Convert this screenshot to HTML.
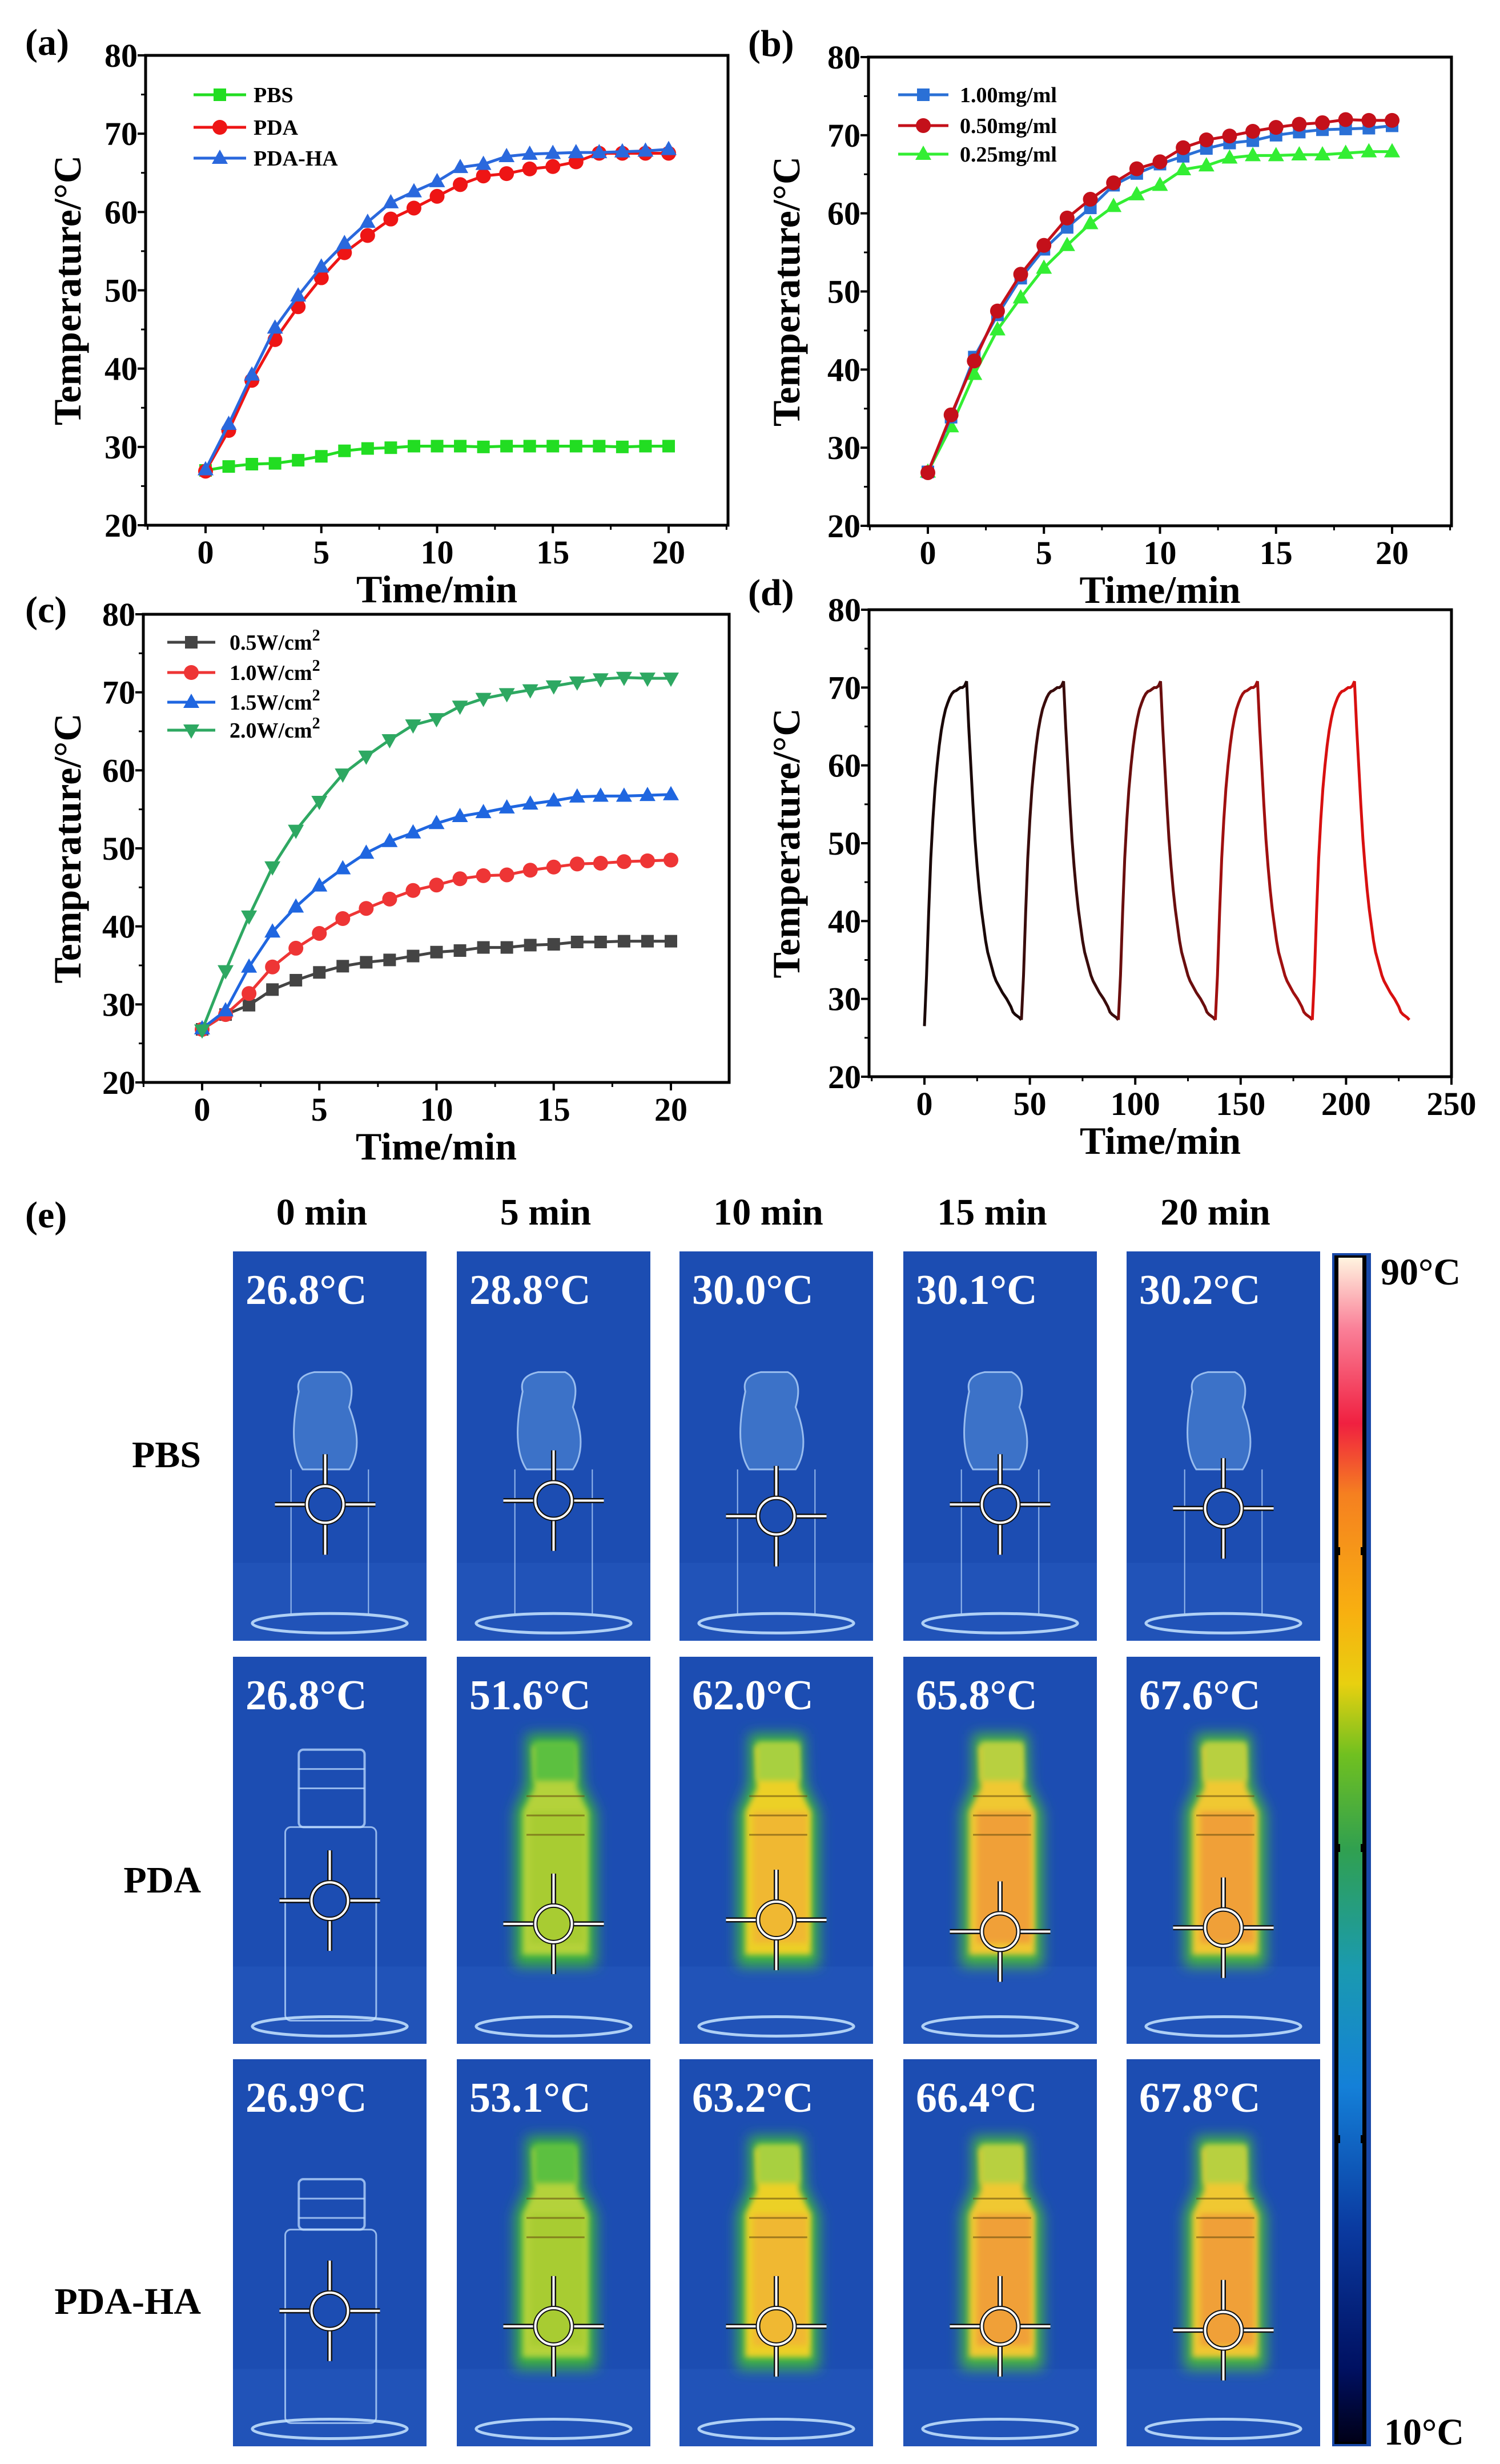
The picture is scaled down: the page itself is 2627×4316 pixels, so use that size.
<!DOCTYPE html>
<html><head><meta charset="utf-8">
<style>
html,body{margin:0;padding:0;background:#fff;}
svg{display:block;}
text{font-family:"Liberation Serif",serif;font-weight:bold;}
</style></head>
<body>
<svg id="fig" xmlns="http://www.w3.org/2000/svg" width="2627" height="4316" viewBox="0 0 2627 4316">
<defs>
<linearGradient id="cbar" x1="0" y1="1" x2="0" y2="0">
<stop offset="0" stop-color="#000018"/>
<stop offset="0.06" stop-color="#001060"/>
<stop offset="0.18" stop-color="#0a3aa0"/>
<stop offset="0.3" stop-color="#1480d8"/>
<stop offset="0.4" stop-color="#1a9ab0"/>
<stop offset="0.5" stop-color="#30a050"/>
<stop offset="0.58" stop-color="#70c020"/>
<stop offset="0.64" stop-color="#e8d010"/>
<stop offset="0.7" stop-color="#f8b010"/>
<stop offset="0.8" stop-color="#f58020"/>
<stop offset="0.86" stop-color="#f02040"/>
<stop offset="0.94" stop-color="#fa8098"/>
<stop offset="1" stop-color="#fff4e0"/>
</linearGradient>
<filter id="blur12" x="-30%" y="-30%" width="160%" height="160%"><feGaussianBlur stdDeviation="12"/></filter>
<filter id="blur5" x="-30%" y="-30%" width="160%" height="160%"><feGaussianBlur stdDeviation="5"/></filter>
</defs>
</svg>
<script>
const NS='http://www.w3.org/2000/svg';
const svg=document.getElementById('fig');
function mk(tag,attrs,parent){const e=document.createElementNS(NS,tag);for(const k in attrs)e.setAttribute(k,attrs[k]);(parent||svg).appendChild(e);return e;}

// ---------- data ----------
const minutes=[0,1,2,3,4,5,6,7,8,9,10,11,12,13,14,15,16,17,18,19,20];
const aPBS=[27,27.5,27.8,27.9,28.3,28.8,29.5,29.8,29.9,30.1,30.1,30.1,30,30.1,30.1,30.1,30.1,30.1,30,30.1,30.1];
const aPDA=[26.9,32.1,38.5,43.7,47.9,51.6,54.8,57,59.1,60.5,62,63.5,64.6,64.9,65.5,65.8,66.4,67.5,67.5,67.5,67.5];
const aPDAHA=[27.1,32.9,39.2,45.2,49.3,53,56,58.7,61.2,62.6,63.9,65.7,66.1,67.1,67.4,67.5,67.6,67.6,67.7,67.8,68];
const b100=[26.9,33.9,41.6,47,51.7,55.4,58.2,60.7,63.6,65.1,66.3,67.3,68.3,69,69.3,70,70.4,70.7,70.8,70.9,71.2];
const b050=[26.8,34.2,41.1,47.5,52.2,55.9,59.4,61.8,63.9,65.7,66.6,68.4,69.4,69.9,70.5,71,71.4,71.6,72,71.9,71.9];
const b025=[26.9,32.7,39.4,45.1,49.2,53,55.9,58.7,60.9,62.4,63.6,65.6,66.1,67.1,67.4,67.4,67.5,67.5,67.7,67.9,67.9];
const c05=[26.8,28.7,29.9,31.9,33.1,34.1,34.9,35.4,35.7,36.2,36.7,36.9,37.3,37.3,37.6,37.7,38,38,38.1,38.1,38.1];
const c10=[26.8,28.7,31.4,34.8,37.2,39.1,41,42.3,43.5,44.6,45.3,46.1,46.5,46.6,47.2,47.6,48,48.1,48.3,48.4,48.5];
const c15=[26.9,29.2,34.8,39.3,42.5,45.2,47.4,49.4,50.9,52,53.2,54.1,54.6,55.2,55.7,56.1,56.6,56.7,56.7,56.8,56.9];
const c20=[26.7,34.3,41.3,47.6,52.3,56,59.5,61.8,63.9,65.8,66.6,68.2,69.2,69.8,70.3,70.8,71.3,71.7,71.9,71.8,71.8];
// panel d: one heating/cooling cycle (minutes from cycle start), repeated at cycle starts
const dCycleTime=[0,1,2,3,4,5,6,7,8,9,10,11,12,13,14,15,16,17,18,19,20,21,22,23,24,25,26,27,28,29,30,31,32,33,34,35,36,37,38,39,40,41,42,43,44,45,46];
const dCycleTemp=[26.5,33,41,48,53,57,60,62.5,64.5,66,67.2,68,68.7,69.2,69.5,69.6,69.8,70,70,70.2,70.8,65,60,55,50.5,47,44,41.5,39.5,37.5,36,35,34,33,32.3,31.8,31.3,30.8,30.4,30,29.5,29,28.3,28,27.8,27.6,27.3];
const dCycleStarts=[0,46,92,138,184];
const dCycleColors=['#1a0808','#3a0c0c','#6a0e0e','#a01010','#d81010'];
const yTicks=[20,30,40,50,60,70,80];
const xTicksA=[0,5,10,15,20];
const xTicksD=[0,50,100,150,200,250];

// ---------- chart helper ----------
function makeChart(p){
  const g=mk('g',{});
  
  
  const sx=v=>p.x0+(v-p.v0)*(p.x1-p.x0)/(p.v1-p.v0);
  const sy=v=>p.B-(v-20)*(p.B-p.T)/60;
  // minor ticks
  for(let i=0;i<yTicks.length;i++){
    const v=yTicks[i];
    mk('line',{x1:p.L-14,x2:p.L,y1:sy(v),y2:sy(v),stroke:'#000','stroke-width':4},g);
    if(i<yTicks.length-1) mk('line',{x1:p.L-8,x2:p.L,y1:sy(v+5),y2:sy(v+5),stroke:'#000','stroke-width':3},g);
    const t=mk('text',{x:p.L-14,y:sy(v)+20,'text-anchor':'end','font-size':58},g);
    t.textContent=v;
    
    
  }
  const step=p.xt[1]-p.xt[0];
  for(let i=0;i<p.xt.length;i++){
    const v=p.xt[i];
    mk('line',{x1:sx(v),x2:sx(v),y1:p.B,y2:p.B+14,stroke:'#000','stroke-width':4},g);
    mk('line',{x1:sx(v-step/2),x2:sx(v-step/2),y1:p.B,y2:p.B+8,stroke:'#000','stroke-width':3},g);
    if(i===p.xt.length-1 && sx(v+step/2)<p.R) mk('line',{x1:sx(v+step/2),x2:sx(v+step/2),y1:p.B,y2:p.B+8,stroke:'#000','stroke-width':3},g);
    const t=mk('text',{x:sx(v),y:p.B+67,'text-anchor':'middle','font-size':58},g);
    t.textContent=v;
    
    
  }
  const fr=mk('rect',{x:p.L,y:p.T,width:p.R-p.L,height:p.B-p.T,fill:'none',stroke:'#000','stroke-width':5},g);
  
  
  const xt=mk('text',{x:(p.L+p.R)/2,y:p.B+135,'text-anchor':'middle','font-size':68},g);
  xt.textContent='Time/min';
  
  
  const yc=(p.T+p.B)/2;
  const yt=mk('text',{x:p.yTitleX,y:yc,'text-anchor':'middle','font-size':68,transform:`rotate(-90 ${p.yTitleX} ${yc})`,dy:24},g);
  yt.textContent='Temperature/°C';
  
  
  const lab=mk('text',{x:p.labX,y:p.labY,'font-size':66},g);
  lab.textContent=p.label;
  
  
  return {g,sx,sy};
}
function marker(g,type,x,y,color){
  let e;
  if(type==='square') e=mk('rect',{x:x-11,y:y-11,width:22,height:22,fill:color},g);
  else if(type==='circle') e=mk('circle',{cx:x,cy:y,r:13,fill:color},g);
  else if(type==='tri') e=mk('polygon',{points:`${x},${y-15} ${x+14},${y+10} ${x-14},${y+10}`,fill:color},g);
  else e=mk('polygon',{points:`${x},${y+15} ${x+14},${y-10} ${x-14},${y-10}`,fill:color},g);
  
  
}
function series(c,xs,ys,color,type,name){
  const g=mk('g',{},c.g);
  
  
  const pts=xs.map((x,i)=>c.sx(x)+','+c.sy(ys[i])).join(' ');
  mk('polyline',{points:pts,fill:'none',stroke:color,'stroke-width':5},g);
  if(type) xs.forEach((x,i)=>marker(g,type,c.sx(x),c.sy(ys[i]),color));
}
function legend(c,x1,x2,tx,y,color,type,label,sup){
  const g=mk('g',{},c.g);
  
  
  mk('line',{x1:x1,x2:x2,y1:y,y2:y,stroke:color,'stroke-width':5},g);
  marker(g,type,(x1+x2)/2,y,color);
  const t=mk('text',{x:tx,y:y+13,'font-size':38},g);
  t.textContent=label;
  if(sup){const s=mk('tspan',{dy:-16,'font-size':28},t);s.textContent=sup;}
}

// Panel a
const ca=makeChart({name:'chart-a',L:255,R:1275,T:97,B:920,x0:360,x1:1171,v0:0,v1:20,xt:xTicksA,yTitleX:117,labX:44,labY:96,label:'(a)'});
series(ca,minutes,aPBS,'#22dd22','square','series-pbs');
series(ca,minutes,aPDA,'#ee1515','circle','series-pda');
series(ca,minutes,aPDAHA,'#2a68dd','tri','series-pda-ha');
legend(ca,339,431,444,166,'#22dd22','square','PBS');
legend(ca,339,431,444,223,'#ee1515','circle','PDA');
legend(ca,339,431,444,277,'#2a68dd','tri','PDA-HA');

// Panel b
const cb=makeChart({name:'chart-b',L:1521,R:2542,T:100,B:921,x0:1625,x1:2438,v0:0,v1:20,xt:xTicksA,yTitleX:1376,labX:1310,labY:98,label:'(b)'});
series(cb,minutes,b025,'#33ee33','tri','series-025');
series(cb,minutes,b100,'#2a70d6','square','series-100');
series(cb,minutes,b050,'#c4101a','circle','series-050');
legend(cb,1573,1661,1681,166,'#2a70d6','square','1.00mg/ml');
legend(cb,1573,1661,1681,220,'#c4101a','circle','0.50mg/ml');
legend(cb,1573,1661,1681,270,'#33ee33','tri','0.25mg/ml');

// Panel c
const cc=makeChart({name:'chart-c',L:251,R:1277,T:1076,B:1896,x0:354,x1:1175,v0:0,v1:20,xt:xTicksA,yTitleX:117,labX:44,labY:1090,label:'(c)'});
series(cc,minutes,c05,'#444444','square','series-05w');
series(cc,minutes,c10,'#ee3535','circle','series-10w');
series(cc,minutes,c15,'#1f66e0','tri','series-15w');
series(cc,minutes,c20,'#2ea862','dtri','series-20w');
legend(cc,293,377,402,1125,'#444444','square','0.5W/cm','2');
legend(cc,293,377,402,1178,'#ee3535','circle','1.0W/cm','2');
legend(cc,293,377,402,1230,'#1f66e0','tri','1.5W/cm','2');
legend(cc,293,377,402,1279,'#2ea862','dtri','2.0W/cm','2');

// Panel d
const cd=makeChart({name:'chart-d',L:1522,R:2542,T:1068,B:1886,x0:1619,x1:2542,v0:0,v1:250,xt:xTicksD,yTitleX:1376,labX:1310,labY:1060,label:'(d)'});
for(let k=0;k<dCycleStarts.length;k++){
  const xs=[],ys=[];
  for(let i=0;i<dCycleTime.length;i++){xs.push(dCycleStarts[k]+dCycleTime[i]);ys.push(k>0&&i===0?27.3:dCycleTemp[i]);}
  series(cd,xs,ys,dCycleColors[k],null,'cycle-'+(k+1));
}

// ---------- Panel e ----------
const eCols=[408,800,1190,1582,1973];
const eRows=[2192,2902,3607];
const eW=339;
const eRowH=[682,678,678];
const timeLabels=['0 min','5 min','10 min','15 min','20 min'];
const rowLabels=['PBS','PDA','PDA-HA'];
const tempTexts=[['26.8°C','28.8°C','30.0°C','30.1°C','30.2°C'],['26.8°C','51.6°C','62.0°C','65.8°C','67.6°C'],['26.9°C','53.1°C','63.2°C','66.4°C','67.8°C']];
const heatTemps=[[26.8,28.8,30.0,30.1,30.2],[26.8,51.6,62.0,65.8,67.6],[26.9,53.1,63.2,66.4,67.8]];
const crossY=[[0.65,0.64,0.68,0.65,0.66],[0.63,0.69,0.68,0.71,0.7],[0.65,0.69,0.69,0.69,0.7]];

const eg=mk('g',{});


const el=mk('text',{x:44,y:2150,'font-size':66},eg);
el.textContent='(e)';


timeLabels.forEach((s,i)=>{
  const t=mk('text',{x:eCols[i]+eW/2-14,y:2145,'text-anchor':'middle','font-size':66},eg);
  t.textContent=s;
  
  
});
const rowLabelY=[2570,3315,4053];
rowLabels.forEach((s,i)=>{
  const t=mk('text',{x:352,y:rowLabelY[i],'text-anchor':'end','font-size':66},eg);
  t.textContent=s;
  
  
});
function heatColors(T){
  if(T<54) return {halo:'#3cb43c',body:'#b4d23a',core:'#a8cc30',top:'#5cc040'};
  if(T<64) return {halo:'#40b840',body:'#ecd028',core:'#f0b830',top:'#a8d040'};
  return {halo:'#48b840',body:'#f0c830',core:'#f0a038',top:'#b8d040'};
}
for(let r=0;r<3;r++){
  for(let c=0;c<5;c++){
    const x=eCols[c],y=eRows[r],w=eW,h=eRowH[r];
    const g=mk('g',{},eg);
    
    
    mk('rect',{x:x,y:y,width:w,height:h,fill:'#1c4db2'},g);
    mk('rect',{x:x,y:y+h*0.8,width:w,height:h*0.2,fill:'#2458bc',opacity:0.6},g);
    const T=heatTemps[r][c];
    const line='rgba(190,220,255,0.75)';
    if(T<40){
      if(r===0){
        mk('path',{d:`M${x+w*0.34} ${y+h*0.36} Q${x+w*0.32} ${y+h*0.32} ${x+w*0.42} ${y+h*0.31} L${x+w*0.56} ${y+h*0.31} Q${x+w*0.64} ${y+h*0.33} ${x+w*0.6} ${y+h*0.4} Q${x+w*0.68} ${y+h*0.5} ${x+w*0.6} ${y+h*0.56} L${x+w*0.36} ${y+h*0.56} Q${x+w*0.28} ${y+h*0.5} ${x+w*0.34} ${y+h*0.36}Z`,fill:'#3c72c8',stroke:line,'stroke-width':3},g);
        mk('line',{x1:x+w*0.3,y1:y+h*0.56,x2:x+w*0.3,y2:y+h*0.93,stroke:line,'stroke-width':2},g);
        mk('line',{x1:x+w*0.7,y1:y+h*0.56,x2:x+w*0.7,y2:y+h*0.93,stroke:line,'stroke-width':2},g);
      } else {
        const top=r===1?0.24:0.31;
        mk('rect',{x:x+w*0.34,y:y+h*top,width:w*0.34,height:h*(0.42-top+0.02),fill:'none',stroke:line,'stroke-width':4,rx:8},g);
        for(let k=1;k<3;k++) mk('line',{x1:x+w*0.34,x2:x+w*0.68,y1:y+h*(top+k*0.05),y2:y+h*(top+k*0.05),stroke:line,'stroke-width':3},g);
        mk('rect',{x:x+w*0.27,y:y+h*0.44,width:w*0.47,height:h*0.5,fill:'none',stroke:line,'stroke-width':3,rx:10},g);
      }
    } else {
      const hc=heatColors(T);
      mk('path',{d:`M${x+w*0.36} ${y+h*0.2} L${x+w*0.64} ${y+h*0.2} L${x+w*0.65} ${y+h*0.33} L${x+w*0.72} ${y+h*0.4} L${x+w*0.72} ${y+h*0.8} L${x+w*0.3} ${y+h*0.8} L${x+w*0.3} ${y+h*0.4} L${x+w*0.36} ${y+h*0.33}Z`,fill:hc.halo,filter:'url(#blur12)'},g);
      mk('path',{d:`M${x+w*0.39} ${y+h*0.23} L${x+w*0.61} ${y+h*0.23} L${x+w*0.62} ${y+h*0.34} L${x+w*0.68} ${y+h*0.4} L${x+w*0.68} ${y+h*0.77} L${x+w*0.34} ${y+h*0.77} L${x+w*0.34} ${y+h*0.4} L${x+w*0.4} ${y+h*0.34}Z`,fill:hc.body,filter:'url(#blur5)'},g);
      mk('rect',{x:x+w*0.4,y:y+h*0.22,width:w*0.22,height:h*0.1,fill:hc.top,filter:'url(#blur5)'},g);
      mk('rect',{x:x+w*0.38,y:y+h*0.4,width:w*0.28,height:h*0.34,fill:hc.core,filter:'url(#blur5)'},g);
      for(let k=0;k<3;k++) mk('line',{x1:x+w*0.36,x2:x+w*0.66,y1:y+h*(0.36+k*0.05),y2:y+h*(0.36+k*0.05),stroke:'#6a5010','stroke-width':3,opacity:0.6},g);
    }
    mk('ellipse',{cx:x+w*0.5,cy:y+h*0.955,rx:w*0.4,ry:h*0.025,fill:'none',stroke:'rgba(200,230,255,0.85)','stroke-width':5},g);
    // crosshair
    const cx=x+w*0.5+(r===0&&c===0?-8:0),cy=y+h*crossY[r][c];
    const ch=mk('g',{},g);
    
    
    [[cx-88,cy,cx-32,cy],[cx+32,cy,cx+88,cy],[cx,cy-88,cx,cy-32],[cx,cy+32,cx,cy+88]].forEach(a=>{
      mk('line',{x1:a[0],y1:a[1],x2:a[2],y2:a[3],stroke:'#111','stroke-width':9},ch);
      mk('line',{x1:a[0],y1:a[1],x2:a[2],y2:a[3],stroke:'#fff','stroke-width':4},ch);
    });
    mk('circle',{cx:cx,cy:cy,r:32,fill:'none',stroke:'#111','stroke-width':8},ch);
    mk('circle',{cx:cx,cy:cy,r:32,fill:'none',stroke:'#fff','stroke-width':4},ch);
    const t=mk('text',{x:x+22,y:y+92,'font-size':74,fill:'#fff'},g);
    t.textContent=tempTexts[r][c];
    
    
  }
}
// colorbar
const cbg=mk('g',{},eg);


mk('rect',{x:2333,y:2195,width:68,height:2090,fill:'#1848a8'},cbg);
mk('rect',{x:2337,y:2199,width:56,height:2082,fill:'#000'},cbg);
mk('rect',{x:2344,y:2203,width:42,height:2074,fill:'url(#cbar)'},cbg);
[2710,3230,3740].forEach(yy=>{mk('rect',{x:2337,y:yy,width:10,height:14,fill:'#000'},cbg);mk('rect',{x:2383,y:yy,width:10,height:14,fill:'#000'},cbg);});
const t90=mk('text',{x:2418,y:2250,'font-size':66},cbg);
t90.textContent='90°C';


const t10=mk('text',{x:2424,y:4282,'font-size':66},cbg);
t10.textContent='10°C';


</script>
</body></html>
